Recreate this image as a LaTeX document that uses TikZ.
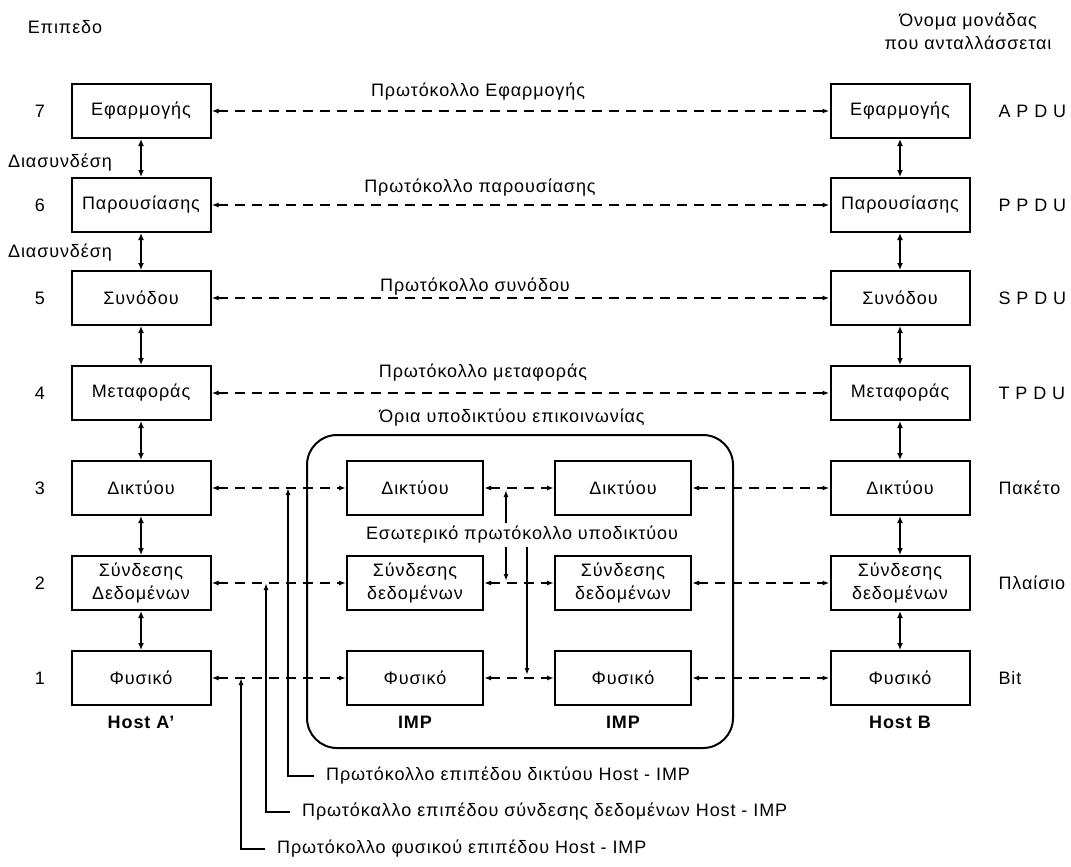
\documentclass[tikz,border=0pt]{standalone}
\usepackage{fontspec}
\setmainfont{Liberation Sans}[LetterSpace=5]
\usetikzlibrary{arrows.meta,positioning}

\begin{document}
\begin{tikzpicture}[x=1pt,y=-1pt,
    every node/.style={font=\fontsize{18}{23}\selectfont},
    layer/.style={draw,line width=2pt,minimum width=139pt,minimum height=54pt,inner sep=2pt,align=center},
    peer/.style={dash pattern=on 10pt off 7pt,line width=1.6pt,{Latex[length=7pt,width=5pt]}-{Latex[length=7pt,width=5pt]}},
    stack/.style={line width=1.8pt,{Latex[length=7pt,width=6pt]}-{Latex[length=7pt,width=6pt]}},
    tag/.style={line width=1.5pt,-{Latex[length=7pt,width=5pt]}}]
\useasboundingbox (0,0) rectangle (1071,867);

                \node[] (lvl) at (65, 27) {Επιπεδο};
                \node[align=center] (unit) at (968, 31) {Όνομα μονάδας\\που ανταλλάσσεται};

                \node[] (n7) at (40, 111) {7};
                \node[] (n6) at (40, 205) {6};
                \node[] (n5) at (40, 298) {5};
                \node[] (n4) at (40, 393) {4};
                \node[] (n3) at (40, 488) {3};
                \node[] (n2) at (40, 583) {2};
                \node[] (n1) at (40, 678) {1};

                \node[layer] (a7) at (141, 111) {Εφαρμογής};
                \node[layer] (a6) at (141, 205) {Παρουσίασης};
                \node[layer] (a5) at (141, 298) {Συνόδου};
                \node[layer] (a4) at (141, 393) {Μεταφοράς};
                \node[layer] (a3) at (141, 488) {Δικτύου};
                \node[layer] (a2) at (141, 583) {Σύνδεσης\\Δεδομένων};
                \node[layer] (a1) at (141, 678) {Φυσικό};

                \node[layer] (b7) at (900, 111) {Εφαρμογής};
                \node[layer] (b6) at (900, 205) {Παρουσίασης};
                \node[layer] (b5) at (900, 298) {Συνόδου};
                \node[layer] (b4) at (900, 393) {Μεταφοράς};
                \node[layer] (b3) at (900, 488) {Δικτύου};
                \node[layer] (b2) at (900, 583) {Σύνδεσης\\δεδομένων};
                \node[layer] (b1) at (900, 678) {Φυσικό};

                \node[anchor=west] (u7) at (995, 111) {A P D U};
                \node[anchor=west] (u6) at (995, 205) {P P D U};
                \node[anchor=west] (u5) at (995, 298) {S P D U};
                \node[anchor=west] (u4) at (995, 393) {T P D U};
                \node[anchor=west] (u3) at (995, 488) {Πακέτο};
                \node[anchor=west] (u2) at (995, 583) {Πλαίσιο};
                \node[anchor=west] (u1) at (995, 678) {Bit};

                \node[] (d6) at (60, 163) {Διασυνδέση};
                \node[] (d5) at (60, 253) {Διασυνδέση};

                \node[] (p7) at (478, 92) {Πρωτόκολλο Εφαρμογής};
                \node[] (p6) at (480, 188) {Πρωτόκολλο παρουσίασης};
                \node[] (p5) at (475, 287) {Πρωτόκολλο συνόδου};
                \node[] (p4) at (483, 373) {Πρωτόκολλο μεταφοράς};

                \node[draw,line width=2pt,rounded corners=30pt,minimum width=426pt,minimum height=313pt] (sub) at (520, 591.5) {};
                \node[] (subt) at (512, 418) {Όρια υποδικτύου επικοινωνίας};

                \node[layer,minimum width=136pt] (i3) at (415, 488) {Δικτύου};
                \node[layer,minimum width=136pt] (i2) at (415, 583) {Σύνδεσης\\δεδομένων};
                \node[layer,minimum width=136pt] (i1) at (415, 678) {Φυσικό};
                \node[layer,minimum width=136pt] (j3) at (623, 488) {Δικτύου};
                \node[layer,minimum width=136pt] (j2) at (623, 583) {Σύνδεσης\\δεδομένων};
                \node[layer,minimum width=136pt] (j1) at (623, 678) {Φυσικό};
                \node[] (inner) at (522, 535) {Εσωτερικό πρωτόκολλο υποδικτύου};

                \node[font=\fontsize{18}{23}\selectfont\bfseries] (ha) at (141, 722) {Host A'};
                \node[font=\fontsize{18}{23}\selectfont\bfseries] (hb) at (900, 722) {Host B};
                \node[font=\fontsize{18}{23}\selectfont\bfseries] (m1) at (415, 722) {IMP};
                \node[font=\fontsize{18}{23}\selectfont\bfseries] (m2) at (623, 722) {IMP};

                \node[anchor=west,inner xsep=12pt] (l3) at (314, 776) {Πρωτόκολλο επιπέδου δικτύου Host - IMP};
                \node[anchor=west,inner xsep=12pt] (l2) at (290, 812) {Πρωτόκαλλο επιπέδου σύνδεσης δεδομένων Host - IMP};
                \node[anchor=west,inner xsep=12pt] (l1) at (265, 849) {Πρωτόκολλο φυσικού επιπέδου Host - IMP};

                \coordinate (t3) at (288, 488);
                \coordinate (t2) at (266, 583);
                \coordinate (t1) at (241, 678);
                \coordinate (q3) at (506, 490);
                \coordinate (q2) at (506, 581);
                \coordinate (q1) at (527, 675);

                \draw
                (a7) edge[stack] (a6)
                (a6) edge[stack] (a5)
                (a5) edge[stack] (a4)
                (a4) edge[stack] (a3)
                (a3) edge[stack] (a2)
                (a2) edge[stack] (a1)
                (b7) edge[stack] (b6)
                (b6) edge[stack] (b5)
                (b5) edge[stack] (b4)
                (b4) edge[stack] (b3)
                (b3) edge[stack] (b2)
                (b2) edge[stack] (b1);

                \draw
                (a7) edge[peer] (b7)
                (a6) edge[peer] (b6)
                (a5) edge[peer] (b5)
                (a4) edge[peer] (b4)
                (a3) edge[peer] (i3)
                (i3) edge[peer] (j3)
                (j3) edge[peer] (b3)
                (a2) edge[peer] (i2)
                (i2) edge[peer] (j2)
                (j2) edge[peer] (b2)
                (a1) edge[peer] (i1)
                (i1) edge[peer] (j1)
                (j1) edge[peer] (b1);

                \draw[tag] (l3.west) -| (t3);
                \draw[tag] (l2.west) -| (t2);
                \draw[tag] (l1.west) -| (t1);
                \draw[tag] (inner.north -| q3) -- (q3);
                \draw[tag] (inner.south -| q2) -- (q2);
                \draw[tag] (inner.south -| q1) -- (q1);
\end{tikzpicture}
\end{document}
